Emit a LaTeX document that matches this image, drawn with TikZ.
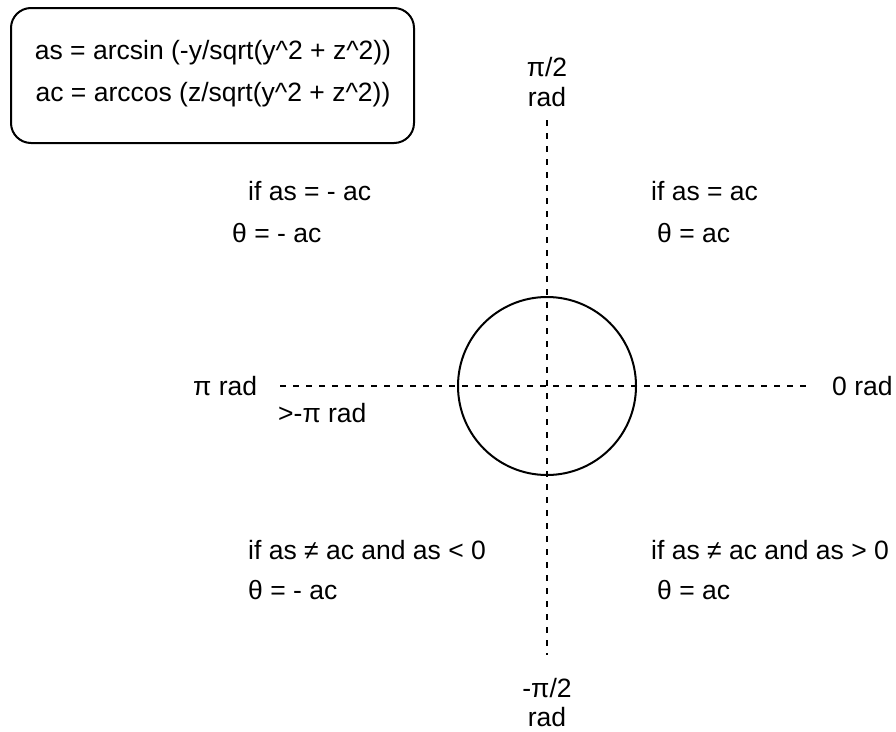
\documentclass[tikz,border=0pt]{standalone}
\usepackage{fontspec}
\setmainfont{Liberation Sans}
\begin{document}
\begin{tikzpicture}[x=1pt,y=-1pt,
  lbl/.style={font=\fontsize{26.5}{32}\selectfont, inner sep=0pt, text height=1.0em, text depth=0pt, yshift=-4pt},
  axis/.style={line width=2pt, dash pattern=on 6pt off 7pt},
  formbox/.style={draw, line width=2pt, rounded corners=20pt, minimum width=403pt, minimum height=135pt}]
\useasboundingbox (0,0) rectangle (896,731);
\node[formbox] (box) at (212.5,75.5) {};
\node[lbl] (f1) at (213,50) {as = arcsin (-y/sqrt(y\^{}2 + z\^{}2))};
\node[lbl] (f2) at (213,92) {ac = arccos (z/sqrt(y\^{}2 + z\^{}2))};
\node[draw, circle, line width=2pt, minimum size=178pt, inner sep=0pt] (c) at (547,386) {};
\coordinate (top) at (547,120);
\coordinate (bot) at (547,655);
\coordinate (lft) at (280,386);
\coordinate (rgt) at (808,386);
\draw[axis] (top) -- (bot);
\draw[axis] (lft) -- (rgt);
\node[lbl] (t1) at (547,67) {π/2};
\node[lbl] (t2) at (547,97) {rad};
\node[lbl] (b1) at (547,688) {-π/2};
\node[lbl] (b2) at (547,717) {rad};
\node[lbl, anchor=west] (pi) at (193,386) {π rad};
\node[lbl, anchor=west] (zero) at (832,386) {0 rad};
\node[lbl, anchor=west] (mpi) at (278,413) {>-π rad};
\node[lbl, anchor=west] (q2a) at (248,191) {if as = - ac};
\node[lbl, anchor=west] (q2b) at (232,233) {θ = - ac};
\node[lbl, anchor=west] (q1a) at (651,191) {if as = ac};
\node[lbl, anchor=west] (q1b) at (657,233) {θ = ac};
\node[lbl, anchor=west] (q3a) at (248,550) {if as ≠ ac and as < 0};
\node[lbl, anchor=west] (q3b) at (248,590) {θ = - ac};
\node[lbl, anchor=west] (q4a) at (651,550) {if as ≠ ac and as > 0};
\node[lbl, anchor=west] (q4b) at (657,590) {θ = ac};
\end{tikzpicture}
\end{document}
